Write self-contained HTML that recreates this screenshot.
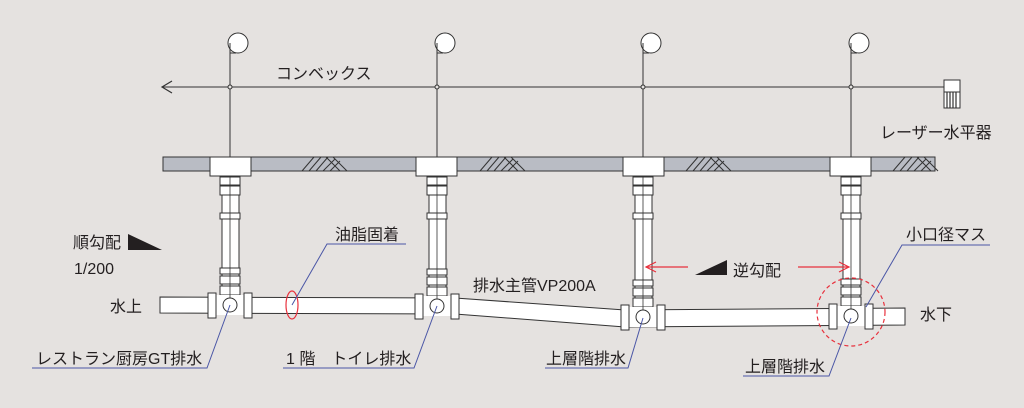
<!DOCTYPE html>
<html><head><meta charset="utf-8"><style>
html,body{margin:0;padding:0;background:#e5e2e0;}
svg{display:block}
text{font-family:"Liberation Sans","Noto Sans CJK JP",sans-serif;fill:#231f20;font-size:16px}
</style></head><body>
<svg width="1024" height="408" viewBox="0 0 1024 408" xmlns="http://www.w3.org/2000/svg">
<defs>
<g id="lamp" stroke="#333" stroke-width="1" fill="#fff">
<circle cx="8" cy="43" r="10"/>
<path d="M0,43 V53 H6" fill="none"/>
<line x1="0" y1="53" x2="0" y2="157"/>
<circle cx="0" cy="87" r="2" fill="#e5e2e0"/>
</g>
<g id="rtop" stroke="#333" stroke-width="1" fill="#fff">
<rect x="-10" y="177" width="20" height="8"/>
<rect x="-10" y="186" width="20" height="9"/>
<rect x="-10" y="213" width="20" height="6"/>
</g>
<g id="rbot" stroke="#333" stroke-width="1" fill="#fff">
<rect x="-10" y="268" width="20" height="6"/>
<rect x="-10" y="276" width="20" height="8"/>
<rect x="-10" y="286" width="20" height="9"/>
<rect x="-14" y="295" width="28" height="20" stroke="none"/>
<rect x="-22" y="293" width="8" height="25"/>
<rect x="14" y="293" width="8" height="25"/>
<circle cx="0" cy="305" r="7"/>
</g>
<g id="hatch" stroke="#333" stroke-width="1" fill="none">
<path d="M0,14 L12,0 M7,14 L19,0 M14,14 L26,0 M21,14 L33,2 M24,0 L38,14 M31,0 L45,14 M28,14 L38,4"/>
</g>
</defs>

<line x1="162" y1="87" x2="944" y2="87" stroke="#333" stroke-width="1"/>
<path d="M172,81 L162,87 L172,93" fill="none" stroke="#333" stroke-width="1.2"/>
<rect x="944" y="80" width="16" height="12" fill="#fff" stroke="#333"/>
<rect x="944" y="92" width="16" height="16" fill="#fff" stroke="#333"/>
<path d="M947,92V108M950,92V108M953,92V108M956,92V108" stroke="#333" stroke-width="1.2"/>

<rect x="163" y="157" width="772" height="14" fill="#b9bcc4" stroke="#333" stroke-width="1"/>
<use href="#hatch" x="302" y="157"/>
<use href="#hatch" x="480" y="157"/>
<use href="#hatch" x="686" y="157"/>
<use href="#hatch" x="893" y="157"/>

<g fill="#fff" stroke="#333">
<rect x="210" y="157" width="41" height="19"/>
<rect x="416" y="157" width="41" height="19"/>
<rect x="623" y="157" width="41" height="19"/>
<rect x="830" y="157" width="41" height="19"/>
</g>

<use href="#lamp" x="230"/>
<use href="#lamp" x="437"/>
<use href="#lamp" x="643"/>
<use href="#lamp" x="851"/>

<path d="M160,297 L455,298 L625,310 L905,308 L905,325 L625,327 L455,314 L160,313 Z" fill="#fff" stroke="#333" stroke-width="1"/>

<g fill="#fff" stroke="#333">
<rect x="222" y="176" width="17" height="120"/>
<rect x="429" y="176" width="17" height="121"/>
<rect x="635" y="176" width="17" height="132"/>
<rect x="843" y="176" width="17" height="131"/>
</g>
<use href="#rtop" x="230"/><use href="#rtop" x="437"/><use href="#rtop" x="643"/><use href="#rtop" x="851"/>
<use href="#rbot" x="230" y="0"/>
<use href="#rbot" x="437" y="1"/>
<use href="#rbot" x="643" y="12"/>
<use href="#rbot" x="851" y="11"/>
<g stroke="#333" stroke-width="0.8">
<line x1="230" y1="176" x2="230" y2="298"/>
<line x1="437" y1="176" x2="437" y2="299"/>
<line x1="643" y1="176" x2="643" y2="310"/>
<line x1="851" y1="176" x2="851" y2="309"/>
</g>

<ellipse cx="292" cy="305" rx="6" ry="14" fill="none" stroke="#e8313d" stroke-width="1.2"/>
<circle cx="851" cy="312" r="34" fill="none" stroke="#e8313d" stroke-width="1.2" stroke-dasharray="4,3"/>
<g stroke="#e8313d" stroke-width="1.2" fill="none">
<line x1="646" y1="267" x2="688" y2="267"/><path d="M656,262 L646,267 L656,272"/>
<line x1="798" y1="267" x2="849" y2="267"/><path d="M839,262 L849,267 L839,272"/>
</g>
<polygon points="695,275 727,260 727,275" fill="#231f20"/>
<polygon points="128,234 128,250 162,250" fill="#231f20"/>

<g stroke="#4a56a6" stroke-width="1" fill="none">
<path d="M292,305 L327,244 L406,244"/>
<path d="M230,305 L207,368 L32,368"/>
<path d="M437,306 L414,368 L283,368"/>
<path d="M643,318 L628,368 L545,368"/>
<path d="M851,318 L829,376 L743,376"/>
<path d="M866,307 L902,245 L990,245"/>
</g>

<text x="276" y="79">コンベックス</text>
<text x="880" y="138">レーザー水平器</text>
<text x="73" y="248">順勾配</text>
<text x="74" y="274" font-size="17">1/200</text>
<text x="110" y="312">水上</text>
<text x="335" y="240">油脂固着</text>
<text x="473" y="291">排水主管VP200A</text>
<text x="733" y="276">逆勾配</text>
<text x="906" y="240">小口径マス</text>
<text x="920" y="320">水下</text>
<text x="36" y="364">レストラン厨房GT排水</text>
<text x="286" y="364">1 階　トイレ排水</text>
<text x="546" y="364">上層階排水</text>
<text x="745" y="372">上層階排水</text>
</svg>
</body></html>
